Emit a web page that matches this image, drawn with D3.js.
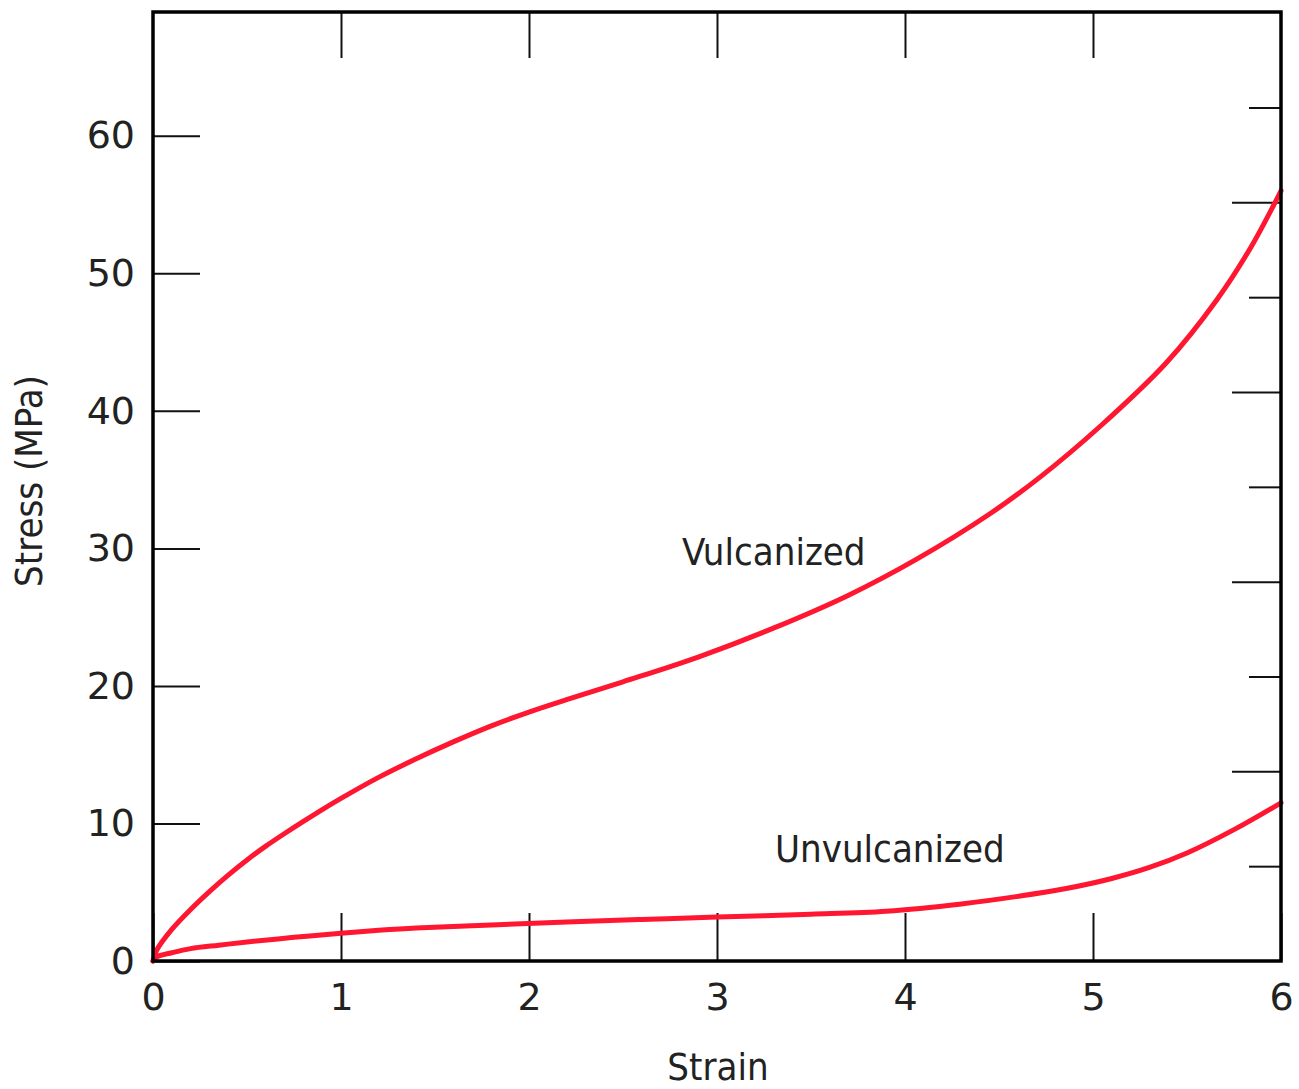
<!DOCTYPE html>
<html lang="en">
<head>
  <meta charset="UTF-8">
  <title>Stress-strain: vulcanized vs unvulcanized rubber</title>
  <style>
    body { margin: 0; background: #fff; }
    .tick text { font-family: "DejaVu Sans", sans-serif; font-size: 38px; fill: #222; }
    .word { font-family: "DejaVu Sans Condensed", "DejaVu Sans", sans-serif; font-stretch: condensed; font-size: 38px; fill: #222; }
  </style>
</head>
<body>
<div id="chart"></div>

<script src="https://cdn.jsdelivr.net/npm/d3@7"></script>
<script>
  // strain (dimensionless) and stress (MPa)
  const vulcStrain = [0, 0.02, 0.1, 0.2, 0.3, 0.4, 0.5, 0.6, 0.7, 0.8, 0.9, 1.0, 1.2, 1.4, 1.6, 1.8, 2.0,
    2.2, 2.5, 2.9, 3.3, 3.7, 4.06, 4.45, 4.72, 5.04, 5.39, 5.66, 5.84, 6.0];
  const vulcStress = [0, 0.8, 2.3, 3.75, 5.05, 6.25, 7.35, 8.35, 9.27, 10.15, 11.0, 11.82, 13.35, 14.7, 15.95, 17.1, 18.1,
    19.0, 20.3, 22.1, 24.2, 26.6, 29.2, 32.5, 35.2, 38.9, 43.5, 48.1, 51.9, 56.0];

  const unvulcStrain = [0, 0.02, 0.1, 0.2, 0.35, 0.5, 0.75, 1.0, 1.2, 1.4, 1.8, 2.2, 2.6, 3.0, 3.5, 3.9,
    4.3, 4.6, 4.85, 5.1, 5.3, 5.5, 5.75, 6.0];
  const unvulcStress = [0, 0.3, 0.6, 0.9, 1.15, 1.38, 1.72, 2.02, 2.23, 2.4, 2.62, 2.83, 3.02, 3.2, 3.4, 3.62,
    4.15, 4.7, 5.25, 6.0, 6.8, 7.85, 9.55, 11.5];

  const xTicks = [0, 1, 2, 3, 4, 5, 6];
  const yTicks = [0, 10, 20, 30, 40, 50, 60];
  // right-hand ticks are in 10^3 psi (1 ksi = 6.895 MPa), unlabeled
  const ksiTicks = [1, 2, 3, 4, 5, 6, 7, 8, 9];
  const MPA_PER_KSI = 6.895;

  const W = 1299, H = 1089;
  const margin = {left: 153, right: 1281, top: 12, bottom: 961};

  const svg = d3.select("#chart")
    .append("svg")
    .attr("width", W)
    .attr("height", H);

  const x = d3.scaleLinear().domain([0, 6]).range([margin.left, margin.right]);
  const y = d3.scaleLinear().domain([0, 69]).range([margin.bottom, margin.top]);
  const yKsi = d3.scaleLinear().domain([0, 69 / MPA_PER_KSI]).range([margin.bottom, margin.top]);

  function styleAxis(g) {
    g.select(".domain").remove();
    g.selectAll(".tick line").attr("stroke", "#111").attr("stroke-width", 2);
  }

  // bottom axis, ticks pointing inward
  svg.append("g")
    .attr("transform", "translate(0," + margin.bottom + ")")
    .call(d3.axisBottom(x).tickValues(xTicks).tickSize(-48).tickPadding(22).tickFormat(d3.format("d")))
    .call(styleAxis);

  // left axis
  svg.append("g")
    .attr("transform", "translate(" + margin.left + ",0)")
    .call(d3.axisLeft(y).tickValues(yTicks).tickSize(-47).tickPadding(18).tickFormat(d3.format("d")))
    .call(styleAxis);

  // top axis, ticks only
  svg.append("g")
    .attr("transform", "translate(0," + margin.top + ")")
    .call(d3.axisTop(x).tickValues(xTicks.slice(1, -1)).tickSize(-46).tickFormat(""))
    .call(styleAxis);

  // right axis in ksi: long ticks on even values, short on odd
  svg.append("g")
    .attr("transform", "translate(" + margin.right + ",0)")
    .call(d3.axisRight(yKsi).tickValues(ksiTicks.filter(d => d % 2 === 0)).tickSize(-49).tickFormat(""))
    .call(styleAxis);
  svg.append("g")
    .attr("transform", "translate(" + margin.right + ",0)")
    .call(d3.axisRight(yKsi).tickValues(ksiTicks.filter(d => d % 2 === 1)).tickSize(-32).tickFormat(""))
    .call(styleAxis);

  // curves
  const line = d3.line()
    .x(d => x(d[0]))
    .y(d => y(d[1]))
    .curve(d3.curveCatmullRom.alpha(0.5));

  const series = [
    d3.zip(vulcStrain, vulcStress),
    d3.zip(unvulcStrain, unvulcStress)
  ];

  svg.selectAll(".curve")
    .data(series)
    .enter()
    .append("path")
    .attr("class", "curve")
    .attr("d", line)
    .attr("fill", "none")
    .attr("stroke", "#ff1630")
    .attr("stroke-width", 5)
    .attr("stroke-linecap", "round");

  // frame
  svg.append("rect")
    .attr("x", margin.left)
    .attr("y", margin.top)
    .attr("width", margin.right - margin.left)
    .attr("height", margin.bottom - margin.top)
    .attr("fill", "none")
    .attr("stroke", "#000")
    .attr("stroke-width", 3.5);

  // curve labels
  svg.append("text")
    .attr("class", "word")
    .attr("x", 682)
    .attr("y", 565)
    .text("Vulcanized");

  svg.append("text")
    .attr("class", "word")
    .attr("x", 775)
    .attr("y", 862)
    .text("Unvulcanized");

  // axis titles
  svg.append("text")
    .attr("class", "word")
    .attr("x", (margin.left + margin.right) / 2 + 1)
    .attr("y", 1080)
    .attr("text-anchor", "middle")
    .text("Strain");

  svg.append("text")
    .attr("class", "word")
    .attr("transform", "translate(42,481)rotate(-90)")
    .attr("text-anchor", "middle")
    .text("Stress (MPa)");
</script>
</body>
</html>
